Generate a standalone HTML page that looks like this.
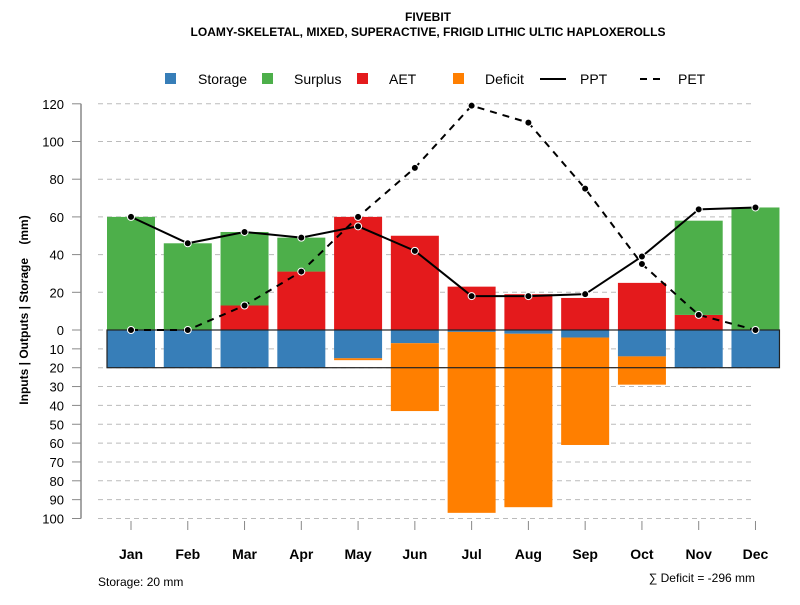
<!DOCTYPE html>
<html><head><meta charset="utf-8"><style>
body{margin:0;background:#fff}
svg{font-family:"Liberation Sans",sans-serif}
</style></head><body>
<svg id="c" width="800" height="600" xmlns="http://www.w3.org/2000/svg">
<text x="428" y="21" text-anchor="middle" font-size="12" font-weight="bold">FIVEBIT</text>
<text x="428" y="36" text-anchor="middle" font-size="12" font-weight="bold">LOAMY-SKELETAL, MIXED, SUPERACTIVE, FRIGID LITHIC ULTIC HAPLOXEROLLS</text>
<g font-size="14">
<rect x="165" y="73" width="11" height="11" fill="#377EB8"/><text x="198" y="84">Storage</text>
<rect x="262" y="73" width="11" height="11" fill="#4DAF4A"/><text x="294" y="84">Surplus</text>
<rect x="357" y="73" width="11" height="11" fill="#E41A1C"/><text x="389" y="84">AET</text>
<rect x="453" y="73" width="11" height="11" fill="#FF7F00"/><text x="485" y="84">Deficit</text>
<line x1="540" y1="79" x2="566" y2="79" stroke="#000" stroke-width="2"/><text x="580" y="84">PPT</text>
<line x1="640" y1="79" x2="666" y2="79" stroke="#000" stroke-width="2" stroke-dasharray="7,6"/><text x="678" y="84">PET</text>
</g>
<text transform="translate(28,310) rotate(-90)" text-anchor="middle" font-size="12" font-weight="bold" style="white-space:pre">Inputs | Outputs | Storage    (mm)</text>
<text x="98" y="586" font-size="12">Storage: 20 mm</text>
<text x="755" y="582" text-anchor="end" font-size="12">∑ Deficit = -296 mm</text>
<g id="g"></g>
</svg>
<script>
const months=["Jan","Feb","Mar","Apr","May","Jun","Jul","Aug","Sep","Oct","Nov","Dec"];
const storage=[20,20,20,20,15,7,1,2,4,14,20,20];
const deficit=[0,0,0,0,1,36,96,92,57,15,0,0];
const aet=[0,0,13,31,60,50,23,19,17,25,8,0];
const surplus=[60,46,39,18,0,0,0,0,0,0,50,65];
const ppt=[60,46,52,49,55,42,18,18,19,39,64,65];
const pet=[0,0,13,31,60,86,119,110,75,35,8,0];
const upTicks=[0,20,40,60,80,100,120];
const downTicks=[10,20,30,40,50,60,70,80,90,100];
const capacity=20;
const NS="http://www.w3.org/2000/svg";
const g=document.getElementById('g');
const y0=330,k=1.885;
const yU=v=>y0-v*k, yD=v=>y0+v*k;
const xC=i=>131+i*56.77, bw=48;
function mk(t,a){const e=document.createElementNS(NS,t);for(const n in a)e.setAttribute(n,a[n]);g.appendChild(e);return e;}
mk('line',{x1:81,y1:yU(120),x2:81,y2:yD(100),stroke:'#888','stroke-width':1.5});
upTicks.forEach(v=>{const y=yU(v);
 const l=mk('line',{x1:98,y1:y,x2:755,y2:y,stroke:'#bbb','stroke-dasharray':'5,4'});
 
 mk('line',{x1:72,y1:y,x2:81,y2:y,stroke:'#888'});
 const t=mk('text',{x:64,y:y+5,'text-anchor':'end','font-size':13});t.textContent=v;
 });
downTicks.forEach(v=>{const y=yD(v);
 const l=mk('line',{x1:98,y1:y,x2:755,y2:y,stroke:'#bbb','stroke-dasharray':'5,4'});
 
 mk('line',{x1:72,y1:y,x2:81,y2:y,stroke:'#888'});
 const t=mk('text',{x:64,y:y+5,'text-anchor':'end','font-size':13});t.textContent=v;
 });
months.forEach((m,i)=>{const x=xC(i);
 mk('line',{x1:x,y1:521,x2:x,y2:530,stroke:'#888'});
 const t=mk('text',{x:x,y:559,'text-anchor':'middle','font-size':14,'font-weight':'bold'});t.textContent=m;
 
 const x1=x-bw/2;
 let r=mk('rect',{x:x1,y:y0,width:bw,height:storage[i]*k,fill:'#377EB8'});
 
 r=mk('rect',{x:x1,y:yD(storage[i]),width:bw,height:deficit[i]*k,fill:'#FF7F00'});
 
 r=mk('rect',{x:x1,y:yU(aet[i]),width:bw,height:aet[i]*k,fill:'#E41A1C'});
 
 r=mk('rect',{x:x1,y:yU(aet[i]+surplus[i]),width:bw,height:surplus[i]*k,fill:'#4DAF4A'});
 
});
const box=mk('rect',{x:xC(0)-bw/2,y:y0,width:xC(11)-xC(0)+bw,height:capacity*k,fill:'none',stroke:'#222','stroke-width':1.2});

function line(d,dash,name){
 const p=mk('polyline',{points:d.map((v,i)=>xC(i)+','+yU(v)).join(' '),fill:'none',stroke:'#000','stroke-width':2,'stroke-dasharray':dash});
 
 d.forEach((v,i)=>{const c=mk('circle',{cx:xC(i),cy:yU(v),r:3.5,fill:'#000',stroke:'#fff','stroke-width':1});
 });
}
line(pet,'7,6','pet');
line(ppt,'none','ppt');
</script>
</body></html>
